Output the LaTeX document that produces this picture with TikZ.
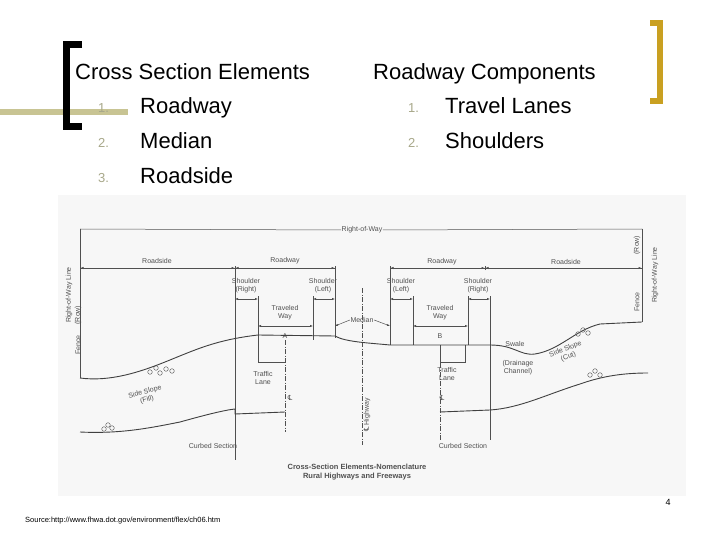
\documentclass[tikz,border=0pt]{standalone}
\usepackage{fontspec}
\setmainfont{Liberation Sans}
\newfontfamily\djv{DejaVu Sans}
\usetikzlibrary{arrows.meta}
\definecolor{olive}{HTML}{C8C493}
\definecolor{gold}{HTML}{C9A021}
\definecolor{numc}{HTML}{A8A88A}
\definecolor{ink}{HTML}{505050}
\begin{document}
\begin{tikzpicture}[x=1pt,y=-1pt,
  big/.style={font=\fontsize{22}{24}\selectfont,anchor=base west,inner sep=0},
  num/.style={font=\fontsize{13}{14}\selectfont,text=numc,anchor=base west,inner sep=0},
  lab/.style={font=\fontsize{7}{8}\selectfont,text=ink,inner sep=0.5,align=center},
  dim/.style={ink,line width=0.5,{Bar[width=4pt]Latex[length=3pt]}-{Latex[length=3pt]Bar[width=4pt]}},
  dimr/.style={ink,line width=0.5,{Latex[length=3pt]}-{Latex[length=3pt]}},
  thin/.style={ink,line width=0.5},
  cl/.style={ink,line width=0.5,dash pattern=on 5pt off 1.5pt on 1pt off 1.5pt},
  ground/.style={ink!80!black,line width=0.9}]
\useasboundingbox (0,0) rectangle (720,540);
\fill[white] (0,0) rectangle (720,540);
% diagram background
\fill[black!3] (58,195) rectangle (686,496);
% olive line and brackets
\fill[olive] (0,109) rectangle (128,115);
\draw[line width=7,line cap=butt] (82,45) -- (66.5,45) -- (66.5,127) -- (82,127);
\draw[gold,line width=6] (650,23) -- (660,23) -- (660,101) -- (650,101);
% texts
\node[big] (t1) at (75,80) {Cross Section Elements};
\node[num] (n1) at (98,113) {1.};\node[big] (r1) at (140,114) {Roadway};
\node[num] (n2) at (98,148) {2.};\node[big] (r2) at (140,149) {Median};
\node[num] (n3) at (98,183) {3.};\node[big] (r3) at (140,184) {Roadside};
\node[big] (t2) at (373,80) {Roadway Components};
\node[num] (m1) at (408,113) {1.};\node[big] (s1) at (445,114) {Travel Lanes};
\node[num] (m2) at (408,148) {2.};\node[big] (s2) at (445,149) {Shoulders};
% ROW lines
\coordinate (rowL) at (80,229); \coordinate (rowR) at (642,229);
\node[lab] (row) at (362,230) {Right-of-Way};
\draw[thin] (rowL) -- (row.west); \draw[thin] (row.east) -- (rowR);
\draw[thin] (80,229) -- (80,378); \draw[thin] (642,229) -- (642,322);
% roadside/roadway dims
\draw[dim] (80,268) -- (235,268); \draw[dim] (235,268) -- (335,268);
\draw[dim] (390,268) -- (485,268); \draw[dim] (485,268) -- (642,268);
\node[lab] (rs1) at (157,261) {Roadside};
\node[lab] (rw1) at (285,261) {Roadway};
\node[lab] (rw2) at (442,262) {Roadway};
\node[lab] (rs2) at (566,262) {Roadside};
% verticals
\draw[thin] (235,268) -- (235,460);
\draw[thin] (258,296) -- (258,345);
\draw[thin] (313,296) -- (313,340);
\draw[thin] (335,268) -- (335,338);
\draw[thin] (390,268) -- (390,345);
\draw[thin] (413,296) -- (413,345);
\draw[thin] (468,296) -- (468,345);
\draw[thin] (490,296) -- (490,440);
\node[lab] (sh1) at (246,286) {Shoulder\\(Right)};
\node[lab] (sh2) at (323,286) {Shoulder\\(Left)};
\node[lab] (sh3) at (401,286) {Shoulder\\(Left)};
\node[lab] (sh4) at (478,286) {Shoulder\\(Right)};
\draw[dimr] (235,299) -- (258,299); \draw[dimr] (313,299) -- (335,299);
\draw[dimr] (390,299) -- (413,299); \draw[dimr] (468,299) -- (490,299);
\node[lab] (tw1) at (285,313) {Traveled\\Way};
\node[lab] (tw2) at (440,313) {Traveled\\Way};
\draw[dimr] (258,326) -- (313,326); \draw[dimr] (413,326) -- (468,326);
\node[lab] (med) at (362,320) {Median};
\draw[thin,-{Latex[length=3pt]}] (med.west) -- (335,326);
\draw[thin,-{Latex[length=3pt]}] (med.east) -- (390,326);
\node[lab] (A) at (285,336) {A};
\node[lab] (B) at (440,336) {B};
% centerlines
\draw[cl] (362,288) -- (362,445);
\node[lab,rotate=90] (clh) at (367,415) {{\djv ℄} Highway};
\draw[cl] (285,340) -- (285,432);
\draw[cl] (440,345) -- (440,440);
\node[lab] (c1) at (290,398) {\djv ℄};
\node[lab] (c2) at (442,398) {\djv ℄};
% traffic lane brackets
\draw[thin] (258,345) -- (258,362) -- (285,362);
\draw[thin] (440,345) -- (440,362) -- (465,362) -- (465,345);
\node[lab] (tl1) at (263,378) {Traffic\\Lane};
\node[lab] (tl2) at (447,374) {Traffic\\Lane};
% ground profile (top)
\draw[ground] (80,378) .. controls (110,382) and (140,372) .. (165,362)
  .. controls (195,350) and (215,340) .. (258,335) -- (335,336)
  .. controls (345,342) and (370,343) .. (390,345) -- (490,345)
  .. controls (515,345) and (520,356) .. (535,354)
  .. controls (560,350) and (575,330) .. (600,324) -- (642,322);
% lower curbed profile
\draw[ground] (80,432) .. controls (120,434) and (150,428) .. (180,422)
  .. controls (205,415) and (225,410) .. (235,409) -- (235,414) -- (285,412);
\draw[ground] (440,412) -- (490,410) .. controls (520,408) and (545,395) .. (580,384)
  .. controls (600,377) and (620,373) .. (648,373);
% rocks
\foreach \x/\y in {150/372,156/368,160/373,166/369,172/371,578/334,583/330,588/333,104/429,108/425,112/428,590/375,595/371,600/375}
  \draw[ink,line width=0.4] (\x,\y) circle (2.3);
\node[lab,rotate=15] (ssf) at (146,396) {Side Slope\\(Fill)};
\node[lab] (sw) at (515,344) {Swale};
\node[lab] (dc) at (518,368) {(Drainage\\Channel)};
\node[lab,rotate=22] (ssc) at (567,353) {Side Slope\\(Cut)};
\node[lab] (cs1) at (213,446) {Curbed Section};
\node[lab] (cs2) at (463,446) {Curbed Section};
\node[lab,rotate=90] (rwl1) at (69,295) {Right-of-Way Line};
\node[lab,rotate=90] (fr1) at (78,345) {Fence};
\node[lab,rotate=90] (fr2) at (78,315) {(Row)};
\node[lab,rotate=90] (rwl2) at (655,275) {Right-of-Way Line};
\node[lab,rotate=90] (fr3) at (637,245) {(Row)};
\node[lab,rotate=90] (fr4) at (637,302) {Fence};
\node[lab,font=\fontsize{7.5}{9}\bfseries] (tt) at (357,472) {Cross-Section Elements-Nomenclature\\Rural Highways and Freeways};
\node[font=\fontsize{7.5}{9}\selectfont,anchor=base west,inner sep=0] (src) at (25,522) {Source:http://www.fhwa.dot.gov/environment/flex/ch06.htm};
\node[font=\fontsize{9}{10}\selectfont,inner sep=0] (pg) at (668,502) {4};
\end{tikzpicture}
\end{document}
